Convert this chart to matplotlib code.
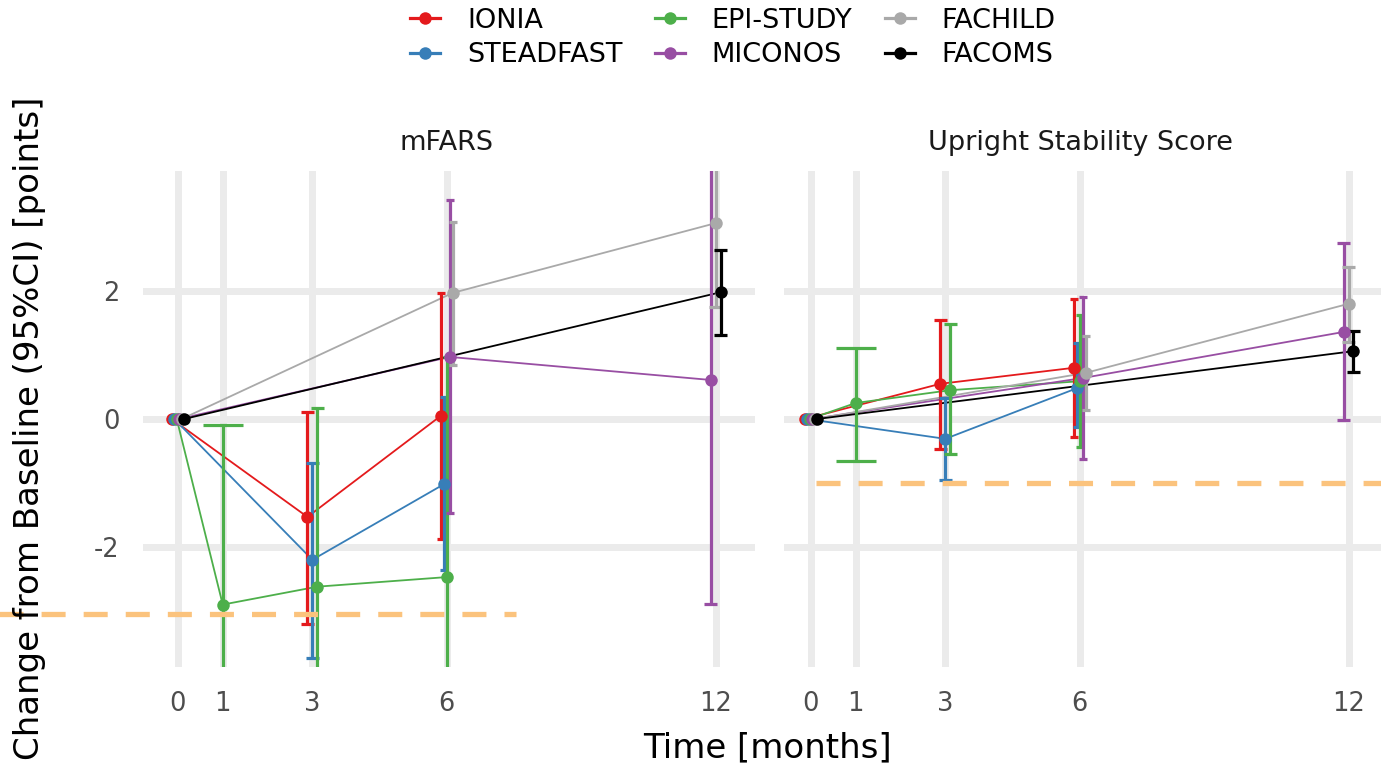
import matplotlib
matplotlib.use("Agg")
import matplotlib.pyplot as plt
from matplotlib.lines import Line2D
import numpy as np

plt.rcParams['font.family'] = ['DejaVu Sans']
plt.rcParams['axes.unicode_minus'] = False
plt.rcParams['lines.scale_dashes'] = False

# ---------------- data ----------------
studies = ["IONIA", "STEADFAST", "EPI-STUDY", "MICONOS", "FACHILD", "FACOMS"]
colors = ["#E41A1C", "#377EB8", "#4DAF4A", "#984EA3", "#A9A9A9", "#000000"]
panels = ["mFARS", "Upright Stability Score"]
x_ticks = [0, 1, 3, 6, 12]
y_ticks = [-2, 0, 2]
thresholds = [-3.05, -1.0]

# mFARS
ionia_mfars_t = [0, 3, 6]
ionia_mfars_m = [0, -1.53, 0.05]
ionia_mfars_lo = [0, -3.20, -1.88]
ionia_mfars_hi = [0, 0.11, 1.97]

steadfast_mfars_t = [0, 3, 6]
steadfast_mfars_m = [0, -2.20, -1.02]
steadfast_mfars_lo = [0, -3.73, -2.36]
steadfast_mfars_hi = [0, -0.69, 0.34]

epi_mfars_t = [0, 1, 3, 6]
epi_mfars_m = [0, -2.90, -2.62, -2.47]
epi_mfars_lo = [0, -5.71, -5.41, -5.91]
epi_mfars_hi = [0, -0.09, 0.17, 0.97]

miconos_mfars_t = [0, 6, 12]
miconos_mfars_m = [0, 0.97, 0.61]
miconos_mfars_lo = [0, -1.47, -2.89]
miconos_mfars_hi = [0, 3.42, 4.11]

fachild_mfars_t = [0, 6, 12]
fachild_mfars_m = [0, 1.97, 3.06]
fachild_mfars_lo = [0, 0.84, 1.75]
fachild_mfars_hi = [0, 3.08, 4.37]

facoms_mfars_t = [0, 12]
facoms_mfars_m = [0, 1.98]
facoms_mfars_lo = [0, 1.31]
facoms_mfars_hi = [0, 2.64]

# Upright Stability Score
ionia_uss_t = [0, 3, 6]
ionia_uss_m = [0, 0.55, 0.80]
ionia_uss_lo = [0, -0.47, -0.28]
ionia_uss_hi = [0, 1.55, 1.88]

steadfast_uss_t = [0, 3, 6]
steadfast_uss_m = [0, -0.31, 0.48]
steadfast_uss_lo = [0, -0.95, -0.13]
steadfast_uss_hi = [0, 0.33, 1.19]

epi_uss_t = [0, 1, 3, 6]
epi_uss_m = [0, 0.25, 0.45, 0.59]
epi_uss_lo = [0, -0.66, -0.55, -0.44]
epi_uss_hi = [0, 1.11, 1.48, 1.62]

miconos_uss_t = [0, 6, 12]
miconos_uss_m = [0, 0.64, 1.36]
miconos_uss_lo = [0, -0.63, -0.02]
miconos_uss_hi = [0, 1.90, 2.75]

fachild_uss_t = [0, 6, 12]
fachild_uss_m = [0, 0.72, 1.80]
fachild_uss_lo = [0, 0.14, 1.20]
fachild_uss_hi = [0, 1.30, 2.37]

facoms_uss_t = [0, 12]
facoms_uss_m = [0, 1.06]
facoms_uss_lo = [0, 0.73]
facoms_uss_hi = [0, 1.37]

data = {
    "mFARS": [
        (ionia_mfars_t, ionia_mfars_m, ionia_mfars_lo, ionia_mfars_hi),
        (steadfast_mfars_t, steadfast_mfars_m, steadfast_mfars_lo, steadfast_mfars_hi),
        (epi_mfars_t, epi_mfars_m, epi_mfars_lo, epi_mfars_hi),
        (miconos_mfars_t, miconos_mfars_m, miconos_mfars_lo, miconos_mfars_hi),
        (fachild_mfars_t, fachild_mfars_m, fachild_mfars_lo, fachild_mfars_hi),
        (facoms_mfars_t, facoms_mfars_m, facoms_mfars_lo, facoms_mfars_hi),
    ],
    "Upright Stability Score": [
        (ionia_uss_t, ionia_uss_m, ionia_uss_lo, ionia_uss_hi),
        (steadfast_uss_t, steadfast_uss_m, steadfast_uss_lo, steadfast_uss_hi),
        (epi_uss_t, epi_uss_m, epi_uss_lo, epi_uss_hi),
        (miconos_uss_t, miconos_uss_m, miconos_uss_lo, miconos_uss_hi),
        (fachild_uss_t, fachild_uss_m, fachild_uss_lo, fachild_uss_hi),
        (facoms_uss_t, facoms_uss_m, facoms_uss_lo, facoms_uss_hi),
    ],
}

# ---------------- layout ----------------
W, H = 1381, 769
DPI = 100
fig = plt.figure(figsize=(W / DPI, H / DPI), dpi=DPI)
fig.patch.set_facecolor("white")


def px_axes(l, t, r, b):
    return fig.add_axes([l / W, 1 - b / H, (r - l) / W, (b - t) / H])


ax_specs = [
    dict(box=(143, 171, 755, 667), xlim=(-0.78, 12.88)),
    dict(box=(784, 171, 1392, 667), xlim=(-0.60, 12.97)),
]
title_x = [447, 1080]
thr_span = [(-4.25, 7.54), (0.11, 13.6)]

DODGE = 0.33
CAPW = 0.9
GRID = "#EBEBEB"

for pi, panel in enumerate(panels):
    spec = ax_specs[pi]
    ax = px_axes(*spec["box"])
    ax.set_xlim(*spec["xlim"])
    ax.set_ylim(-3.875, 3.875)
    for s in ax.spines.values():
        s.set_visible(False)
    ax.set_xticks(x_ticks)
    ax.set_yticks(y_ticks)
    ax.grid(True, color=GRID, linewidth=5.0, zorder=0)
    ax.set_axisbelow(True)
    ax.tick_params(length=0, labelsize=18.5, labelcolor="#4D4D4D", pad=17)
    if pi == 0:
        ax.set_yticklabels([str(v) for v in y_ticks])
    else:
        ax.set_yticklabels([])

    series = data[panel]
    # count groups per time for dodging
    counts = {}
    for (t, m, lo, hi) in series:
        for tt in t:
            counts[tt] = counts.get(tt, 0) + 1
    rank = {}
    for si, (t, m, lo, hi) in enumerate(series):
        xs = []
        for tt in t:
            idx = rank.get(tt, 0) + 1
            rank[tt] = idx
            n = counts[tt]
            xs.append(tt + DODGE * ((idx - 0.5) / n - 0.5))
        xs = np.array(xs)
        c = colors[si]
        ax.plot(xs, m, color=c, lw=1.3, zorder=3 + si * 0.01)
        for xx, tt, mm, l, h in zip(xs, t, m, lo, hi):
            if h - l <= 0:
                continue
            half = CAPW / counts[tt] / 2
            ax.vlines(xx, l, h, color=c, lw=2.3, zorder=4 + si * 0.01)
            ax.hlines([l, h], xx - half, xx + half, color=c, lw=2.3, zorder=4 + si * 0.01)
        ax.plot(xs, m, "o", color=c, ms=9, mew=0, zorder=5 + si * 0.01)

    # threshold dashed line
    x0, x1 = thr_span[pi]
    ax.plot([x0, x1], [thresholds[pi], thresholds[pi]], color="#FBC37D", lw=3.8,
            dashes=(17.3, 13.0), clip_on=False, zorder=6, solid_capstyle="butt",
            dash_capstyle="butt")

    fig.text(title_x[pi] / W, 1 - 143 / H, panel, ha="center", va="center",
             fontsize=19.5, color="#1A1A1A")

fig.text(767 / W, 1 - 748 / H, "Time [months]", ha="center", va="center", fontsize=24.5)
fig.text(30 / W, 1 - 428 / H, "Change from Baseline (95%CI) [points]", ha="center",
         va="center", rotation=90, fontsize=24.5)

handles = [Line2D([0], [0], color=c, lw=2.3, marker="o", ms=9, mew=0) for c in colors]
fig.legend(handles, studies, loc="center", bbox_to_anchor=(733 / W, 1 - 38 / H), ncol=3,
           frameon=False, fontsize=19.5, handlelength=1.1, handletextpad=1.0,
           columnspacing=1.2, labelspacing=0.32, borderpad=0)

fig.savefig("out.png", dpi=DPI, facecolor="white")
